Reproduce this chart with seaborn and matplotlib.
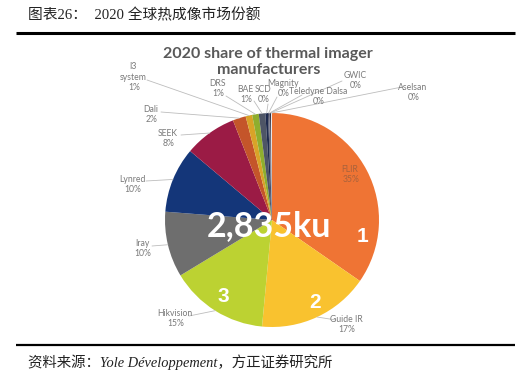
import numpy as np
import matplotlib
matplotlib.use("Agg")
import matplotlib.pyplot as plt
import seaborn as sns

# shares (the "0%" ones are thin slivers)
makers = ["FLIR", "Guide IR", "Hikvision", "Iray", "Lynred", "SEEK", "Dali",
          "I3\nsystem", "DRS", "BAE", "SCD", "Magnity", "Teledyne Dalsa", "GWIC", "Aselsan"]
shares = [35, 17, 15, 10, 10, 8, 2, 1, 1, 1, 0.4, 0.15, 0.15, 0.15, 0.15]
share_labels = ["35%", "17%", "15%", "10%", "10%", "8%", "2%", "1%", "1%", "1%",
                "0%", "0%", "0%", "0%", "0%"]
colors = ["#EF7434", "#F9C22F", "#BCD232", "#6E6E6E", "#143679", "#9B1B45", "#C4552A",
          "#D9A328", "#8FAE2E", "#4E5566", "#1E2A4E", "#3A3F55", "#6A6A80", "#2A2A3A", "#E9E9EF"]
total_text = "2,835ku"
rank_labels = ["1", "2", "3"]

W, H = 528, 375
CX, CY, R = 272, 220, 107


def ty(y):
    # image pixel row -> axes y
    return H - y


sns.set_style("white")
plt.rcParams["font.family"] = ["Lato", "DejaVu Sans"]

fig = plt.figure(figsize=(W / 100, H / 100), dpi=100)
ax = fig.add_axes([0, 0, 1, 1])

wedges, _ = ax.pie(shares, colors=colors, startangle=90, counterclock=False,
                   center=(CX, ty(CY)), radius=R, frame=True,
                   wedgeprops=dict(linewidth=0))
ax.set_xlim(0, W)
ax.set_ylim(0, H)
ax.set_aspect("equal")
ax.axis("off")

# label x, name row, percent row (image px) and where the leader line starts
label_pos = {
    "FLIR": (350, 170, 180, None),
    "Guide IR": (346, 319, 329, (336, 320)),
    "Hikvision": (175, 313, 323, (189, 316)),
    "Iray": (142, 243, 253, (152, 246)),
    "Lynred": (132, 179, 189, (146, 181)),
    "SEEK": (168, 133, 143, (181, 135)),
    "Dali": (151, 109, 119, (161, 112)),
    "I3\nsystem": (133, 72, 87, (147, 80)),
    "DRS": (217, 83, 93, (226, 96)),
    "BAE": (245, 90, 100, (254, 101)),
    "SCD": (263, 89, 99, (268, 104)),
    "Magnity": (283, 83, 93, (277, 97)),
    "Teledyne Dalsa": (318, 92, 102, (302, 95)),
    "GWIC": (355, 75, 85, (342, 81)),
    "Aselsan": (413, 88, 98, (402, 87)),
}

txt_col = "#7A7A7A"
for w, name, pct in zip(wedges, makers, share_labels):
    lx, ly_name, ly_pct, start = label_pos[name]
    col = "#A8623C" if name == "FLIR" else txt_col
    ax.text(lx, ty(ly_name), name, ha="center", va="center",
            fontsize=6.2, color=col, linespacing=1.15)
    ax.text(lx + 1, ty(ly_pct), pct, ha="center", va="center",
            fontsize=6.2, color=col)
    if start is not None:
        mid = np.deg2rad((w.theta1 + w.theta2) / 2)
        ex = CX + R * np.cos(mid)
        ey = ty(CY) + R * np.sin(mid)
        ax.plot([start[0], ex], [ty(start[1]), ey], color="#BDBDBD", lw=0.6)

# big centre total and rank numbers
ax.text(269, ty(226), total_text, ha="center", va="center", fontsize=24.5,
        fontweight="bold", color="white")
for (x, y), r in zip([(363, 237), (315, 303), (223, 297)], rank_labels):
    ax.text(x, ty(y), r, ha="center", va="center", fontsize=15,
            fontweight="bold", color="white", family="Liberation Sans")

# chart title, two lines
ax.text(268, ty(54), "2020 share of thermal imager", ha="center",
        va="center", fontsize=11.5, fontweight="bold", color="#595959")
ax.text(269, ty(70), "manufacturers", ha="center",
        va="center", fontsize=11.5, fontweight="bold", color="#595959")

# report header and footer
cjk = ["Liberation Serif", "Noto Sans CJK SC"]
ax.text(28, ty(15), "图表26：  2020 全球热成像市场份额", ha="left", va="center",
        fontsize=10.6, color="#222222", family=cjk)
ax.plot([16, 515], [ty(33), ty(33)], color="black", lw=2.2, solid_capstyle="butt")
ax.plot([16, 515], [ty(345), ty(345)], color="black", lw=1.6, solid_capstyle="butt")
ax.text(28, ty(362), "资料来源：Yole Développement，方正证券研究所", ha="left", va="center",
        fontsize=10.4, color="#222222", style="italic", family=cjk)

fig.savefig("out.png", dpi=100)
